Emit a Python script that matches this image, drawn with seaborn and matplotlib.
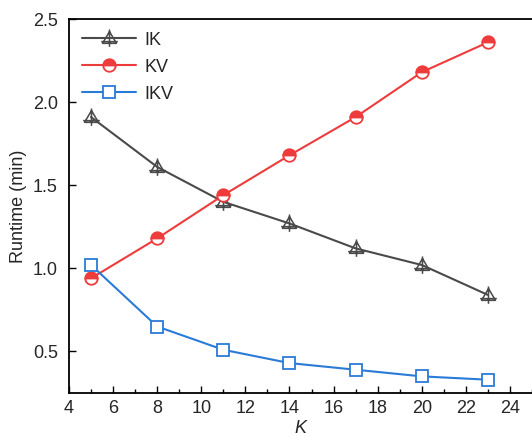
import seaborn as sns
import matplotlib.pyplot as plt
from matplotlib.path import Path
from matplotlib.ticker import MultipleLocator
import pandas as pd

K = [5, 8, 11, 14, 17, 20, 23]
ik = [1.91, 1.61, 1.40, 1.27, 1.12, 1.02, 0.84]
kv = [0.94, 1.18, 1.44, 1.68, 1.91, 2.18, 2.36]
ikv = [1.02, 0.65, 0.51, 0.43, 0.39, 0.35, 0.33]

df = pd.DataFrame({"K": K, "IK": ik, "KV": kv, "IKV": ikv})

sns.set_style("ticks")
plt.rcParams["font.family"] = ["Liberation Sans", "DejaVu Sans"]
plt.rcParams["xtick.direction"] = "in"
plt.rcParams["ytick.direction"] = "in"

# open triangle with a cross through it
tri_plus = Path(
    [(-1, -0.7), (1, -0.7), (0, 1), (-1, -0.7),
     (0, -1.2), (0, 1.3),
     (-1.2, -0.45), (1.2, -0.45)],
    [Path.MOVETO, Path.LINETO, Path.LINETO, Path.CLOSEPOLY,
     Path.MOVETO, Path.LINETO,
     Path.MOVETO, Path.LINETO],
)

fig = plt.figure(figsize=(5.32, 4.37), dpi=100)
ax = fig.add_axes([0.1297, 0.1007, 0.8703, 0.8558])

sns.lineplot(data=df, x="K", y="IK", ax=ax, color="#4a4a4a", lw=1.5,
             marker=tri_plus, markersize=13, markerfacecolor="none",
             markeredgecolor="#4a4a4a", markeredgewidth=1.1, label="IK")
sns.lineplot(data=df, x="K", y="KV", ax=ax, color="#ee3b3b", lw=1.5,
             marker="o", markersize=9, fillstyle="top",
             markerfacecolor="#ee3b3b", markerfacecoloralt="white",
             markeredgecolor="#ee3b3b", markeredgewidth=1.3, label="KV")
sns.lineplot(data=df, x="K", y="IKV", ax=ax, color="#2a7bd8", lw=1.5,
             marker="s", markersize=8.5, markerfacecolor="white",
             markeredgecolor="#2a7bd8", markeredgewidth=1.3, label="IKV")

ax.set_xlim(4, 25)
ax.set_ylim(0.25, 2.5)
ax.xaxis.set_major_locator(MultipleLocator(2))
ax.xaxis.set_minor_locator(MultipleLocator(1))
ax.set_yticks([0.5, 1.0, 1.5, 2.0, 2.5])
ax.tick_params(which="major", length=5, width=1, labelsize=13, color="black")
ax.tick_params(which="minor", length=3, width=1, color="black")
ax.tick_params(axis="x", which="both", top=False, pad=5)
ax.tick_params(axis="y", which="both", right=False, pad=8)

for s in ["left", "bottom", "top"]:
    ax.spines[s].set_linewidth(1.3)
    ax.spines[s].set_color("black")
ax.spines["right"].set_visible(False)

ax.set_xlabel("K", fontsize=13, fontstyle="italic", labelpad=2)
ax.set_ylabel("Runtime (min)", fontsize=13, labelpad=4)

ax.legend(loc="upper left", frameon=False, fontsize=13, handlelength=3.0,
          handletextpad=0.5, labelspacing=0.55, borderaxespad=0.3)

fig.savefig("out.png", dpi=100)
